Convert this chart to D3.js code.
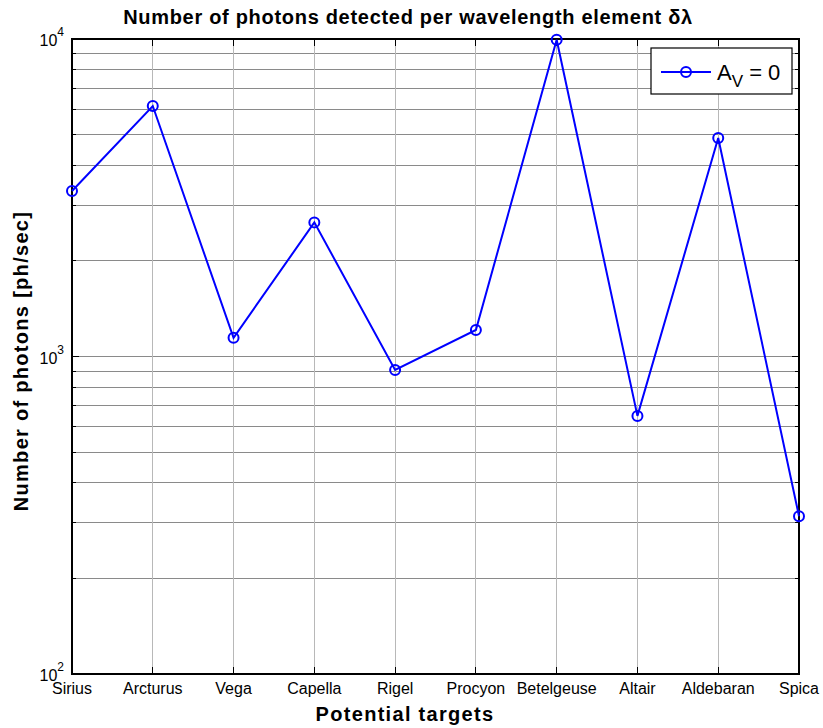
<!DOCTYPE html>
<html>
<head>
<meta charset="utf-8">
<script src="https://cdn.jsdelivr.net/npm/d3@7"></script>
<style>
  html, body { margin: 0; padding: 0; background: #fff; }
  svg { display: block; font-family: Arial, "Liberation Sans", sans-serif; }
</style>
</head>
<body>
<svg id="chart" width="823" height="728"></svg>
<script>
// Target stars and detected photon rates [ph/sec] for A_V = 0
const categories = ["Sirius", "Arcturus", "Vega", "Capella", "Rigel", "Procyon", "Betelgeuse", "Altair", "Aldebaran", "Spica"];
const photons = [3320, 6150, 1145, 2645, 907, 1212, 9950, 650, 4880, 314];
const yTickValues = [100, 1000, 10000];
const yTickExponents = ["2", "3", "4"];
const seriesLabel = { base: "A", sub: "V", rest: " = 0" };

const svg = d3.select("#chart");
const margin = { left: 72, right: 24, top: 39, bottom: 54 };
const W = 823, H = 728;
const x0 = margin.left, x1 = W - margin.right;
const y0 = margin.top, y1 = H - margin.bottom;

const x = d3.scalePoint().domain(categories).range([x0, x1]);
const y = d3.scaleLog().domain([100, 10000]).range([y1, y0]);

// Horizontal grid at every decade subdivision
const minor = [];
for (let d = 100; d < 10000; d *= 10) for (let k = 1; k < 10; k++) minor.push(d * k);
minor.push(10000);

const grid = svg.append("g");
grid.selectAll("line.h").data(minor).join("line")
  .attr("x1", x0).attr("x2", x1)
  .attr("y1", d => y(d)).attr("y2", d => y(d))
  .attr("stroke", "#8a8a8a").attr("stroke-width", 1).attr("shape-rendering", "crispEdges");
grid.selectAll("line.v").data(categories).join("line")
  .attr("x1", d => x(d)).attr("x2", d => x(d))
  .attr("y1", y0).attr("y2", y1)
  .attr("stroke", "#b8b8b8").attr("stroke-width", 1).attr("shape-rendering", "crispEdges");

// Inward tick marks on all four sides
const ticks = svg.append("g").attr("stroke", "#000").attr("stroke-width", 1).attr("shape-rendering", "crispEdges");
minor.forEach(v => {
  const len = yTickValues.includes(v) ? 7 : 4;
  ticks.append("line").attr("x1", x0).attr("x2", x0 + len).attr("y1", y(v)).attr("y2", y(v));
  ticks.append("line").attr("x1", x1).attr("x2", x1 - len).attr("y1", y(v)).attr("y2", y(v));
});
categories.forEach(c => {
  ticks.append("line").attr("x1", x(c)).attr("x2", x(c)).attr("y1", y1).attr("y2", y1 - 7);
  ticks.append("line").attr("x1", x(c)).attr("x2", x(c)).attr("y1", y0).attr("y2", y0 + 7);
});

// Axes box
svg.append("rect").attr("x", x0).attr("y", y0).attr("width", x1 - x0).attr("height", y1 - y0)
  .attr("fill", "none").attr("stroke", "#000").attr("stroke-width", 1.5).attr("shape-rendering", "crispEdges");

// Category labels
svg.append("g").selectAll("text").data(categories).join("text")
  .attr("x", d => x(d)).attr("y", y1 + 20)
  .attr("text-anchor", "middle").attr("font-size", 16).attr("fill", "#000")
  .text(d => d);

// Log tick labels 10^n
const yl = svg.append("g");
yTickValues.forEach((v, i) => {
  const t = yl.append("text").attr("x", x0 - 8).attr("y", y(v) + 7)
    .attr("text-anchor", "end").attr("font-size", 16).attr("fill", "#000");
  t.append("tspan").text("10");
  t.append("tspan").attr("dy", -10).attr("font-size", 12).text(yTickExponents[i]);
});

// Series line and markers
const line = d3.line().x((d, i) => x(categories[i])).y(d => y(d));
svg.append("path").datum(photons).attr("d", line)
  .attr("fill", "none").attr("stroke", "#0000ff").attr("stroke-width", 2);
svg.append("g").selectAll("circle").data(photons).join("circle")
  .attr("cx", (d, i) => x(categories[i])).attr("cy", d => y(d)).attr("r", 5)
  .attr("fill", "none").attr("stroke", "#0000ff").attr("stroke-width", 2);

// Title
svg.append("text").attr("x", 408).attr("y", 24)
  .attr("text-anchor", "middle").attr("font-size", 20).attr("font-weight", "bold")
  .attr("letter-spacing", 0.7)
  .text("Number of photons detected per wavelength element δλ");

// Axis titles
svg.append("text").attr("x", 405).attr("y", 721)
  .attr("text-anchor", "middle").attr("font-size", 20).attr("font-weight", "bold")
  .attr("letter-spacing", 1.3)
  .text("Potential targets");
svg.append("text")
  .attr("transform", `translate(28, 361) rotate(-90)`)
  .attr("text-anchor", "middle").attr("font-size", 20).attr("font-weight", "bold")
  .attr("letter-spacing", 1.3)
  .text("Number of photons [ph/sec]");

// Legend
const lg = svg.append("g").attr("transform", "translate(651, 48)");
lg.append("rect").attr("width", 141).attr("height", 46)
  .attr("fill", "#fff").attr("stroke", "#000").attr("stroke-width", 1.2);
lg.append("line").attr("x1", 10).attr("x2", 60).attr("y1", 24).attr("y2", 24)
  .attr("stroke", "#0000ff").attr("stroke-width", 2);
lg.append("circle").attr("cx", 35).attr("cy", 24).attr("r", 5)
  .attr("fill", "none").attr("stroke", "#0000ff").attr("stroke-width", 2);
const lt = lg.append("text").attr("x", 66).attr("y", 32).attr("font-size", 22).attr("fill", "#000");
lt.append("tspan").text(seriesLabel.base);
lt.append("tspan").attr("dy", 7).attr("font-size", 17).text(seriesLabel.sub);
lt.append("tspan").attr("dy", -7).text(seriesLabel.rest);
</script>
</body>
</html>
